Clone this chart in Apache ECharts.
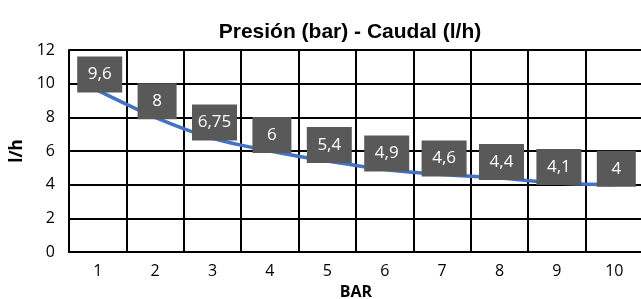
<!DOCTYPE html>
<html>
<head>
<meta charset="utf-8">
<script src="https://cdn.jsdelivr.net/npm/echarts@6/dist/echarts.min.js"></script>
<style>
  html, body { margin: 0; padding: 0; background: #fff; }
  #chart { width: 641px; height: 299px; }
</style>
</head>
<body>
<div id="chart"></div>
<script>
// Chart data
const pressures = ['1', '2', '3', '4', '5', '6', '7', '8', '9', '10'];
const flows = [9.6, 8, 6.75, 6, 5.4, 4.9, 4.6, 4.4, 4.1, 4];
const yTicks = { min: 0, max: 12, interval: 2 };

const chart = echarts.init(document.getElementById('chart'));

// Excel style labels: comma decimals, boxes sized by text length
const fmt = v => String(v).replace('.', ',');
const seriesData = flows.map(v => ({
    value: v,
    label: { width: fmt(v).length > 1 ? 45 : 39 }
}));

const option = {
    animation: false,
    title: {
        text: 'Presión (bar) - Caudal (l/h)',
        left: 345,
        top: 17,
        textAlign: 'center',
        textStyle: {
            fontFamily: 'Liberation Sans',
            fontWeight: 'bold',
            fontSize: 21,
            color: '#000'
        }
    },
    grid: {
        left: 69,
        top: 50,
        width: 574,
        height: 202,
        // plot runs slightly past the right edge, don't let v6 squeeze it
        outerBoundsMode: 'none'
    },
    xAxis: {
        type: 'category',
        data: pressures,
        boundaryGap: true,
        name: 'BAR',
        nameLocation: 'middle',
        nameGap: 32,
        nameTextStyle: {
            fontFamily: 'Open Sans',
            fontWeight: 'bold',
            fontSize: 16,
            color: '#000'
        },
        axisLine: { lineStyle: { color: '#000', width: 2 } },
        axisTick: { show: false },
        axisLabel: {
            margin: 11,
            fontFamily: 'Open Sans',
            fontSize: 16,
            color: '#000'
        },
        splitLine: { show: true, lineStyle: { color: '#000', width: 2 } }
    },
    yAxis: {
        type: 'value',
        min: yTicks.min,
        max: yTicks.max,
        interval: yTicks.interval,
        name: 'l/h',
        nameLocation: 'middle',
        nameGap: 37,
        nameTextStyle: {
            fontFamily: 'Open Sans',
            fontWeight: 'bold',
            fontSize: 17,
            color: '#000'
        },
        axisLine: { show: true, lineStyle: { color: '#000', width: 2 } },
        axisTick: { show: false },
        axisLabel: {
            margin: 14,
            fontFamily: 'Open Sans',
            fontSize: 16,
            color: '#000'
        },
        splitLine: { show: true, lineStyle: { color: '#000', width: 2 } }
    },
    series: [{
        type: 'line',
        data: seriesData,
        smooth: 0.3,
        showSymbol: true,
        symbol: 'circle',
        symbolSize: 0,
        lineStyle: { color: '#4472C4', width: 3.5 },
        // nudge the boxes so their bottom edge sits on the point, like Excel
        labelLayout: { hideOverlap: false, dx: 2, dy: 2 },
        label: {
            show: true,
            position: 'top',
            distance: 0,
            formatter: p => fmt(p.value),
            backgroundColor: '#595959',
            color: '#fff',
            fontFamily: 'Open Sans',
            fontSize: 17,
            lineHeight: 22,
            padding: [7, 0],
            align: 'center'
        }
    }]
};

chart.setOption(option);
</script>
</body>
</html>
